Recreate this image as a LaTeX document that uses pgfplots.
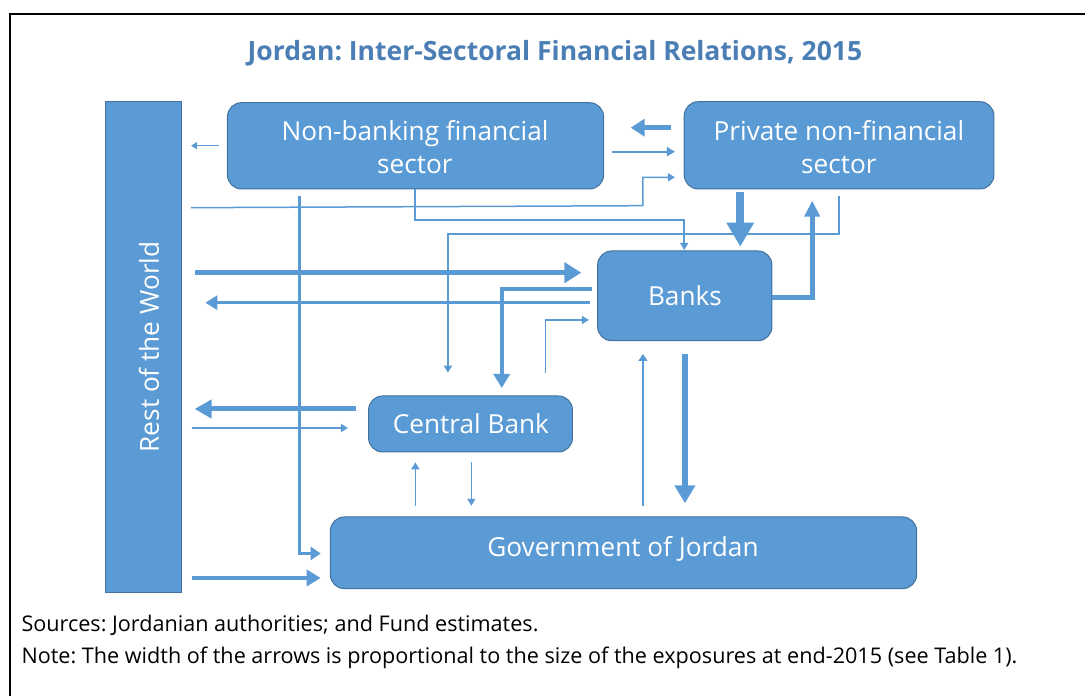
\documentclass[border=0pt]{standalone}
\usepackage{pgfplots}
\pgfplotsset{compat=1.18}
\usepackage{fontspec}
\setmainfont{Open Sans}
\usetikzlibrary{arrows.meta}
\definecolor{boxblue}{HTML}{5B9BD5}
\definecolor{boxedge}{HTML}{41719C}
\definecolor{titleblue}{HTML}{4A7EB5}
\tikzset{
  box/.style={fill=boxblue, draw=boxedge, line width=1pt, rounded corners=14pt},
  arr/.style n args={3}{boxblue, line width=#1, line join=miter, -{Triangle[length=#2, width=#3]}},
  lbl/.style={text=white, align=center, font=\fontsize{26.2}{33}\selectfont},
}
\frenchspacing
\begin{document}
\frenchspacing
\begin{tikzpicture}
\begin{axis}[
  scale only axis, width=1086pt, height=696pt,
  xmin=0, xmax=1086, ymin=0, ymax=696, y dir=reverse,
  hide axis, clip=false,
]
% page extent and frame
\addplot[draw=none] coordinates {(0,0) (1086,696)};
\addplot[black, line width=2.2pt] coordinates {(10,696) (10,14) (1085,14)};

% boxes
\addplot[fill=boxblue, draw=boxedge, line width=1pt] coordinates {(106,101.5) (181.4,101.5) (181.4,593) (106,593)} -- cycle;
\addplot[box] coordinates {(415,102.7) (603.6,102.7) (603.6,189) (227.5,189) (227.5,102.7)} -- cycle;
\addplot[box] coordinates {(839,101.7) (994,101.7) (994,189) (684.3,189) (684.3,101.7)} -- cycle;
\addplot[box] coordinates {(685,251) (772,251) (772,340.7) (597.7,340.7) (597.7,251)} -- cycle;
\addplot[box] coordinates {(471,396) (572.5,396) (572.5,452) (368.6,452) (368.6,396)} -- cycle;
\addplot[box] coordinates {(623,517) (916.7,517) (916.7,588.7) (330.4,588.7) (330.4,517)} -- cycle;

% arrows
\addplot[arr={1.5pt}{6pt}{7pt}] coordinates {(218.6,145.7) (191,145.7)};
\addplot[arr={1.5pt}{7pt}{8pt}] coordinates {(191,207.7) (643,205.7) (643,177.3) (675,177.3)};
\addplot[arr={1.5pt}{7pt}{8pt}] coordinates {(415,189) (415,220) (684.3,220) (684.3,250)};
\addplot[arr={1.5pt}{7pt}{8pt}] coordinates {(839.3,196) (839.3,234) (448,234) (448,372.7)};
\addplot[arr={3pt}{10pt}{13pt}] coordinates {(299.3,196) (299.3,553.5) (320.7,553.5)};
\addplot[arr={5pt}{17pt}{20pt}] coordinates {(194.6,272.7) (581.4,272.7)};
\addplot[arr={3.5pt}{12pt}{14pt}] coordinates {(590,302.7) (205.4,302.7)};
\addplot[arr={4pt}{14pt}{16pt}] coordinates {(592,289.3) (501.8,289.3) (501.8,388)};
\addplot[arr={1.3pt}{7pt}{8pt}] coordinates {(545.4,372.7) (545.4,320) (589,320)};
\addplot[arr={4.5pt}{14pt}{17pt}] coordinates {(670.7,127.7) (630.7,127.7)};
\addplot[arr={2pt}{8pt}{9pt}] coordinates {(611.8,151.7) (675,151.7)};
\addplot[arr={8pt}{24pt}{26pt}] coordinates {(740.3,192) (740.3,246.7)};
\addplot[arr={5pt}{16pt}{15pt}] coordinates {(772,297.3) (812.3,297.3) (812.3,200.7)};
\addplot[arr={5pt}{17pt}{18pt}] coordinates {(356.4,409) (194.6,409)};
\addplot[arr={1.5pt}{7pt}{8pt}] coordinates {(192,428) (348,428)};
\addplot[arr={1.5pt}{7pt}{8pt}] coordinates {(415.4,505.8) (415.4,462.4)};
\addplot[arr={1.5pt}{7pt}{8pt}] coordinates {(471.4,462.4) (471.4,505.8)};
\addplot[arr={4pt}{14pt}{16pt}] coordinates {(192,578) (320.7,578)};
\addplot[arr={1.5pt}{7pt}{9pt}] coordinates {(643,505.8) (643,354)};
\addplot[arr={6pt}{18pt}{20pt}] coordinates {(685,353.6) (685,503.3)};

% texts
\node[text=titleblue, font=\fontsize{26.5}{30}\selectfont\bfseries] at (axis cs:555,53) {Jordan: Inter-Sectoral Financial Relations, 2015};
\node[lbl] at (axis cs:415,147) {Non-banking financial\\sector};
\node[lbl] at (axis cs:839,147) {Private non-financial\\sector};
\node[lbl] at (axis cs:685,296) {Banks};
\node[lbl] at (axis cs:471,424) {Central Bank};
\node[lbl] at (axis cs:623,549) {Government of Jordan};
\node[lbl, rotate=90, font=\fontsize{26.2}{33}\selectfont] at (axis cs:149,347) {Rest of the World};
\node[anchor=west, text=black, font=\fontsize{21.6}{25}\selectfont] at (axis cs:18,625) {Sources: Jordanian authorities; and Fund estimates.};
\node[anchor=west, text=black, font=\fontsize{21.6}{25}\selectfont] at (axis cs:18,658) {Note: The width of the arrows is proportional to the size of the exposures at end-2015 (see Table 1).};
\end{axis}
\end{tikzpicture}
\end{document}
